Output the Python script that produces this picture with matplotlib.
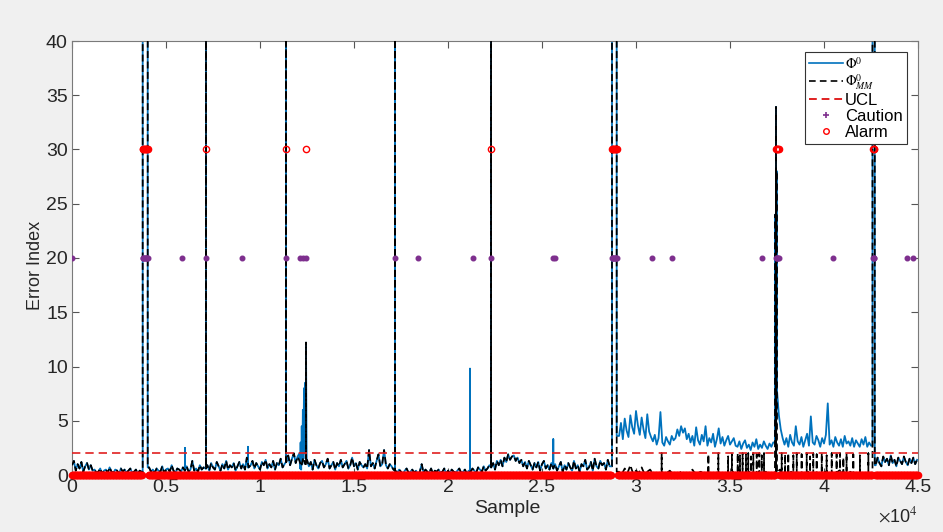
import numpy as np
import matplotlib
matplotlib.use('Agg')
import matplotlib.pyplot as plt
from matplotlib.lines import Line2D

# ---------------- data ----------------
# Phi0_MM (black), samples 0 .. 28600, one value every 100 samples
seg1_start, seg1_step = 0, 100
phi_mm_seg1 = [0.9, 1.3, 0.4, 1.0, 0.6, 1.2, 0.3, 0.8, 1.1, 0.5, 0.9, 0.4,
               0.5, 0.2, 0.3, 0.6, 0.1, 0.4, 0.5, 0.2, 0.7, 0.3, 0.2, 0.5, 0.4, 0.1, 0.6, 0.3, 0.5, 0.2,
               0.4, 0.6, 0.2, 0.3, 0.5, 0.1, 0.4, 0.3,
               0.5, 0.5, 0.5,
               0.7, 0.3, 0.5, 0.2, 0.6, 0.4, 0.3, 0.8, 0.2, 0.5, 0.6, 0.3, 0.9, 0.4, 0.2, 0.6, 0.5, 0.3,
               0.7, 0.4, 0.8, 0.3, 0.5, 1.3, 0.4, 0.6, 0.3, 0.9, 0.5, 0.7,
               0.6, 0.9, 0.4, 1.1, 0.7, 0.5, 1.2, 0.8, 0.4, 1.0, 0.6, 1.3, 0.5, 0.9, 0.7, 1.1, 0.4, 0.8,
               1.2, 0.6, 1.0, 0.5, 1.6, 0.7, 0.9, 1.3, 0.6, 1.1, 0.8, 0.5, 1.2, 0.9, 1.4, 0.6, 1.0, 0.7,
               1.3, 0.5, 1.1, 0.9, 1.5, 0.7, 1.0,
               1.2, 1.8, 0.9, 1.5, 2.0, 1.1, 1.7,
               1.3, 0.8, 1.6, 1.0, 1.4,
               0.8, 1.2, 0.5, 1.4, 0.9, 0.6, 1.1, 1.3, 0.7, 1.0, 1.5, 0.6, 0.9, 1.2, 0.5, 1.1, 0.8, 1.4,
               0.7, 1.0, 1.3, 0.6, 0.9, 1.6, 0.8, 1.1, 0.5, 1.2, 0.9, 0.7, 1.0, 0.6, 2.3, 0.8, 1.1, 0.6,
               1.3, 1.9, 0.8, 1.0, 2.3, 0.9, 0.6, 1.0, 0.8, 0.5,
               0.4, 0.2, 0.5, 0.3, 0.1, 0.4, 0.6, 0.2, 0.3, 0.5, 0.2, 0.4, 0.1, 0.3, 1.0, 0.2, 0.5, 0.3,
               0.2, 0.6, 0.1, 0.4, 0.3, 0.5, 0.2, 0.3, 0.6, 0.1, 0.4, 0.2, 0.5, 0.3, 0.2, 0.4, 0.6, 0.2,
               0.3, 0.5, 0.1, 0.4,
               0.3, 0.6, 0.4, 0.2, 0.7, 0.5, 0.3, 0.8, 0.4, 0.6, 0.9,
               0.7, 1.1, 0.5, 1.3, 0.9, 1.4, 0.8, 1.6, 1.2, 1.9, 1.4, 1.7, 1.8, 1.3, 1.6, 1.1, 1.4, 0.8,
               1.2, 0.6, 1.3, 0.9, 0.5, 1.1, 0.7, 1.2, 0.4, 1.0, 1.3, 0.6, 0.9, 0.5, 1.1,
               0.6, 1.0, 0.4, 0.8, 1.2, 0.3, 0.9, 0.5, 1.1, 0.7, 0.4, 1.3, 0.6, 0.9, 0.3, 1.0, 0.8, 1.4,
               0.5, 0.7, 1.2, 0.4, 1.5, 0.8, 0.6, 1.3, 0.9, 1.1, 0.5, 1.4, 0.8]

# Phi0_MM (black), samples 29100 .. 42450, one value every 150 samples
seg2k_start, seg2k_step = 29100, 150
phi_mm_seg2 = [0.3, 0.1, 0.6, 0.2, 0.9, 0.1, 0.4, 0.2, 0.7, 0.1, 0.3, 0.5, 0.1,
               0.2, 0.1, 0.3, 0.1, 0.2, 0.4, 0.1, 0.2, 0.1, 0.3, 0.1, 0.2, 0.1, 0.5, 0.1, 0.2, 0.3, 0.1,
               0.2, 0.1, 0.2, 0.1, 0.3, 0.1, 0.2, 0.1, 0.2, 0.4, 0.1, 0.2, 0.1, 0.2, 0.1, 0.3, 0.1, 0.2,
               0.1, 0.2, 0.1, 0.3, 0.1, 0.2, 0.1, 0.2, 0.5, 0.1, 0.2, 0.1, 0.3, 0.1, 0.2, 0.1, 0.2, 0.1,
               0.3, 0.1, 0.2, 0.1, 0.2, 0.1, 0.3, 0.1, 0.2, 0.1, 0.2, 0.4, 0.1, 0.2, 0.1, 0.3, 0.1, 0.2,
               0.1, 0.2, 0.1, 0.2, 0.1]

# Phi0 (blue), samples 29100 .. 42500, one value every 100 samples
seg2b_start, seg2b_step = 29100, 100
phi_seg2 = [3.6, 4.8, 3.3, 5.2, 4.1, 3.5, 5.5, 4.4, 3.8, 5.9, 4.6, 3.7, 5.3, 4.2, 3.4, 5.6, 4.0, 3.5,
            3.1, 3.7, 2.8, 3.4, 5.8, 3.0, 2.7, 3.5, 3.1, 2.8, 3.6, 3.2,
            3.4, 4.2, 3.6, 4.5, 3.9, 4.3, 3.3, 3.8,
            3.0, 3.6, 2.7, 4.4, 3.2, 2.8, 3.7, 3.1, 4.5, 2.7, 3.4, 3.0, 3.8, 2.6, 3.3, 4.3, 2.9, 3.5,
            2.7, 3.2, 3.6, 2.8, 3.1, 3.4, 2.7,
            2.6, 3.1, 2.4, 2.9, 3.2, 2.5, 2.8, 2.3, 3.0, 2.6, 3.3, 2.4, 2.8, 2.5, 3.1, 2.7, 2.4, 2.9,
            2.6, 3.0,
            3.0, 7.8, 5.5, 4.2, 3.4,
            2.8, 3.4, 2.6, 3.7, 3.0, 2.7, 4.5, 3.1, 2.8, 3.5, 2.6, 3.2, 3.8, 2.7, 5.4, 3.0, 2.8, 3.6,
            3.2, 2.6, 3.4, 2.9, 3.7, 6.6, 2.8, 3.2, 2.6, 3.5, 3.0, 2.7, 3.3, 2.6, 3.6, 2.9, 3.1, 2.7,
            3.4, 2.6, 3.2, 2.9, 2.6, 3.3, 2.8, 3.5, 2.6, 3.0, 2.7]

# both indices, samples 42750 .. 45000, one value every 100 samples
seg3_start, seg3_step = 42750, 100
phi_mm_seg3 = [0.9, 1.6, 1.1, 0.8, 1.7, 1.2, 1.5, 0.9, 1.8, 1.1, 1.4, 0.8, 1.6, 1.3, 1.0, 1.7, 1.2,
               0.9, 1.5, 1.1, 1.6, 1.0, 1.4]

# off-scale excursions shared by both indices: (start, end, value)
blocks = [(3760, 4027, 60.0), (28723, 28973, 60.0), (42580, 42700, 60.0)]
# single-sample excursions shared by both indices: (sample, value)
spikes_both = [(7128, 60.0), (11383, 60.0), (17180, 60.0), (22290, 60.0),
               (37415, 24.0), (37447, 33.9), (37478, 28.0)]
# excursions of Phi0_MM only
spikes_mm = [(12447, 12.2),
             (31365, 2.0), (33850, 1.9), (34380, 2.0), (34900, 1.7), (35100, 1.9), (35410, 2.0),
             (35530, 1.8), (35670, 2.0), (35850, 1.9), (35970, 2.0), (36120, 1.7), (36240, 2.0),
             (36420, 1.9), (36560, 2.0), (36690, 1.8), (36810, 2.0), (37750, 2.0), (37930, 1.9),
             (38100, 2.0), (38370, 1.8), (38550, 2.0), (38810, 1.9), (39080, 2.0), (39260, 1.7),
             (39430, 2.0), (39610, 1.9), (39880, 2.0), (40140, 1.8), (40410, 2.0), (40670, 1.9),
             (40850, 2.0), (41030, 1.6), (41200, 2.0), (41560, 1.9), (41910, 1.8), (42360, 2.0)]
# excursions of Phi0 only
spikes_phi = [(6010, 2.5), (9360, 2.6), (21170, 9.8), (25600, 3.3)]
ramp_phi_x = [12100, 12130, 12160, 12190, 12220, 12250, 12280, 12310, 12340, 12370, 12400, 12430,
              12447, 12480]
ramp_phi_y = [2.0, 0.6, 3.0, 0.5, 4.5, 1.0, 6.0, 1.5, 8.0, 2.0, 8.5, 3.0, 12.2, 1.5]

ucl = 2.0
alarm_level = 30
alarm_spans = [(3760, 4060), (28700, 29000), (37420, 37600), (42600, 42690)]
alarm_points = [7128, 11383, 12447, 22270]
caution_level = 20
caution_spans = [(3760, 4060), (28700, 29000), (37420, 37600), (42600, 42690)]
caution_points = [0, 5851, 7128, 9043, 11383, 12150, 12300, 12447, 17181, 18404, 21330, 22270,
                  25585, 25691, 30851, 31915, 36702, 40479, 44415, 44734]

xticks = [0, 5000, 10000, 15000, 20000, 25000, 30000, 35000, 40000, 45000]
xticklabels = ['0', '0.5', '1', '1.5', '2', '2.5', '3', '3.5', '4', '4.5']
yticks = [0, 5, 10, 15, 20, 25, 30, 35, 40]

# ---------------- series construction ----------------
def base_series(segs):
    xs, ys = [], []
    for start, step, vals in segs:
        xs.append(start + step * np.arange(len(vals)))
        ys.append(np.asarray(vals, float))
    return np.concatenate(xs).astype(float), np.concatenate(ys)

def merge(x, y, keep, nx, ny):
    x2 = np.concatenate([x[keep], nx])
    y2 = np.concatenate([y[keep], ny])
    o = np.argsort(x2, kind='stable')
    return x2[o], y2[o]

def add_block(x, y, s0, s1, v):
    left = y[x < s0][-1]
    right = y[x > s1][0]
    keep = (x < s0) | (x > s1)
    return merge(x, y, keep, [s0, s0, s1, s1], [left, v, v, right])

def add_spike(x, y, s, v):
    foot = y[np.argmin(np.abs(x - s))]
    return merge(x, y, np.ones(len(x), bool), [s, s, s], [foot, v, foot])

def add_overlay(x, y, px, py):
    keep = (x < px[0]) | (x > px[-1])
    return merge(x, y, keep, px, py)

xb, yb = base_series([(seg1_start, seg1_step, phi_mm_seg1),
                      (seg2b_start, seg2b_step, phi_seg2),
                      (seg3_start, seg3_step, phi_mm_seg3)])
xk, yk = base_series([(seg1_start, seg1_step, phi_mm_seg1),
                      (seg2k_start, seg2k_step, phi_mm_seg2),
                      (seg3_start, seg3_step, phi_mm_seg3)])
for s0, s1, v in blocks:
    xb, yb = add_block(xb, yb, s0, s1, v)
    xk, yk = add_block(xk, yk, s0, s1, v)
for s, v in spikes_both:
    xb, yb = add_spike(xb, yb, s, v)
    xk, yk = add_spike(xk, yk, s, v)
for s, v in spikes_phi:
    xb, yb = add_spike(xb, yb, s, v)
xb, yb = add_overlay(xb, yb, ramp_phi_x, ramp_phi_y)
for s, v in spikes_mm:
    xk, yk = add_spike(xk, yk, s, v)

grid = np.arange(0, 45001, 40)
def flag_positions(spans, points):
    on = np.zeros(grid.shape, bool)
    for a, b in spans:
        on |= (grid >= a) & (grid <= b)
    hi = np.concatenate([grid[on], np.asarray(points, float)])
    return hi, grid[~on]

alarm_hi, alarm_lo = flag_positions(alarm_spans, alarm_points)
caut_hi, caut_lo = flag_positions(caution_spans, caution_points)

# ---------------- drawing ----------------
plt.rcParams['font.family'] = ['Liberation Sans', 'DejaVu Sans']
plt.rcParams['mathtext.fontset'] = 'stix'

W, H = 943, 532
fig = plt.figure(figsize=(W / 100, H / 100), dpi=100, facecolor='#f0f0f0')
ax = fig.add_axes([72 / W, 1 - 475 / H, (918 - 72) / W, (475 - 41) / H])
ax.set_facecolor('white')

blue = '#0072BD'
purple = '#7E2F8E'
ax.plot(xb, yb, color=blue, lw=1.3, zorder=2)
ax.plot(xk, yk, color='black', lw=1.25, ls=(0, (4.0, 2.0)), zorder=3)
ax.axhline(ucl, color='#e02020', lw=1.2, ls=(0, (5, 3)), zorder=4)
ax.plot(caut_hi, np.full(len(caut_hi), caution_level), ls='none', marker='o',
        ms=3.3, color=purple, zorder=5)
ax.plot(alarm_lo, np.zeros(len(alarm_lo)), ls='none', marker='o', ms=4.3,
        mfc='none', mec='red', mew=1.2, zorder=6, clip_on=False)
ax.plot(alarm_hi, np.full(len(alarm_hi), alarm_level), ls='none', marker='o', ms=4.5,
        mfc='none', mec='red', mew=1.0, zorder=6)

ax.set_xlim(0, 45000)
ax.set_ylim(0, 40)
ax.set_xticks(xticks)
ax.set_xticklabels(xticklabels)
ax.set_yticks(yticks)
ax.tick_params(direction='in', length=5, width=0.8, top=True, right=True,
               labelsize=14, colors='#555555', labelcolor='#262626', pad=3)
for sp in ax.spines.values():
    sp.set_color('#7a7a7a')
    sp.set_linewidth(0.8)

ax.set_xlabel('Sample', fontsize=14, color='#262626')
ax.xaxis.set_label_coords((507 - 72) / 846, -0.058)
ax.set_ylabel('Error Index', fontsize=13, color='#262626')
ax.yaxis.set_label_coords(-0.033, (475 - 265) / 434)
fig.text(918 / W, 1 - 516 / H, r'$\times\mathregular{10}^{4}$', ha='right', va='center',
         fontsize=13, color='#262626')

handles = [Line2D([], [], color=blue, lw=1.2),
           Line2D([], [], color='black', lw=1.2, ls=(0, (4, 2.5))),
           Line2D([], [], color='#e02020', lw=1.4, ls=(0, (4, 2.5))),
           Line2D([], [], ls='none', marker='+', ms=4, mew=1.2, color=purple),
           Line2D([], [], ls='none', marker='o', ms=4, mfc='none', mec='red')]
labels = [r'$\Phi^0$', r'$\Phi^0_{MM}$', 'UCL', 'Caution', 'Alarm']
leg = ax.legend(handles, labels, loc='upper right', bbox_to_anchor=(907 / W, 1 - 52 / H),
                bbox_transform=fig.transFigure, borderaxespad=0, fontsize=12,
                labelspacing=0.05, handlelength=2.0, handletextpad=0.15, borderpad=0.25,
                fancybox=False, framealpha=1, edgecolor='#333333')
leg.get_frame().set_linewidth(0.8)
for t in leg.get_texts()[:2]:
    t.set_fontsize(10)

fig.savefig('out.png', dpi=100, facecolor=fig.get_facecolor())
